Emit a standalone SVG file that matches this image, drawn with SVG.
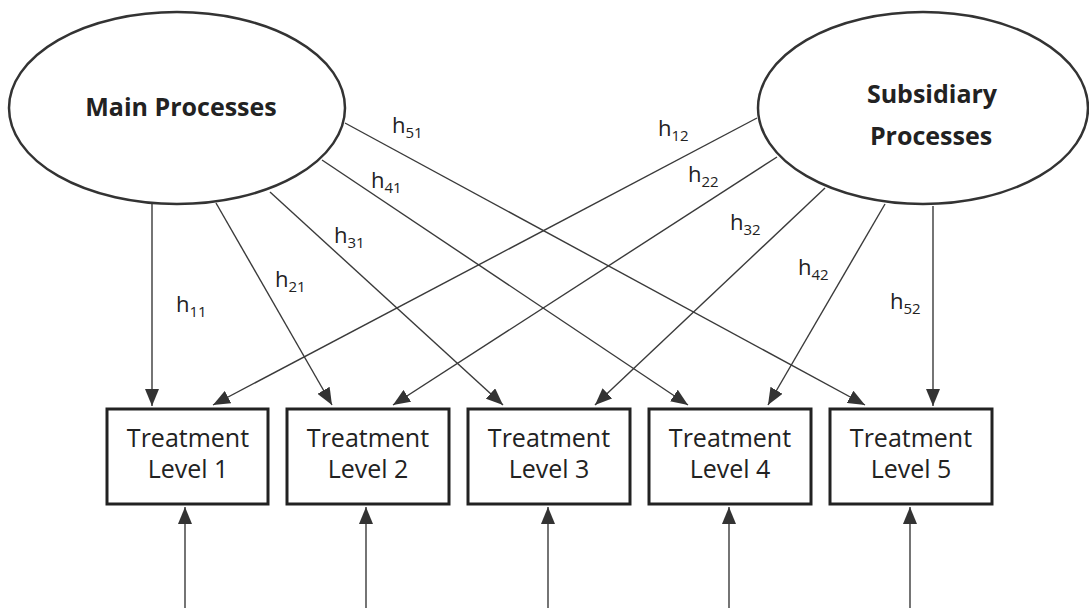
<svg xmlns="http://www.w3.org/2000/svg" width="1089" height="608" viewBox="0 0 1089 608">
<style>
.ell{fill:#fff;stroke:#333;stroke-width:2.5}
.box{fill:#fff;stroke:#222;stroke-width:3}
.con{stroke:#3a3a3a;stroke-width:1.4;fill:none;marker-end:url(#ah)}
.title{font-family:"Open Sans","Liberation Sans",sans-serif;font-weight:bold;font-size:25px;fill:#222;text-anchor:middle}
.lbl{font-family:"Open Sans","Liberation Sans",sans-serif;font-size:25px;fill:#222;text-anchor:middle}
.h{font-family:"Open Sans","Liberation Sans",sans-serif;font-size:22px;fill:#222}
.sub{font-size:15px}
</style>
<defs>
<marker id="ah" markerUnits="userSpaceOnUse" markerWidth="18" markerHeight="14" refX="17" refY="7" orient="auto">
<path d="M0,0 L17,7 L0,14 Z" fill="#333"/>
</marker>
</defs>
<rect width="1089" height="608" fill="#fff"/>
<g id="connectors">
<line class="con" x1="152" y1="204" x2="152" y2="406"/>
<line class="con" x1="216" y1="203" x2="332" y2="405"/>
<line class="con" x1="270" y1="192" x2="503" y2="405"/>
<line class="con" x1="322" y1="160" x2="688" y2="405"/>
<line class="con" x1="345" y1="123" x2="865" y2="405"/>
<line class="con" x1="757" y1="118" x2="213" y2="405"/>
<line class="con" x1="777" y1="157" x2="393" y2="405"/>
<line class="con" x1="825" y1="188" x2="595" y2="405"/>
<line class="con" x1="885" y1="204" x2="768" y2="405"/>
<line class="con" x1="933" y1="206" x2="933" y2="406"/>
<line class="con" x1="185" y1="608" x2="185" y2="507"/>
<line class="con" x1="366" y1="608" x2="366" y2="507"/>
<line class="con" x1="548" y1="608" x2="548" y2="507"/>
<line class="con" x1="729" y1="608" x2="729" y2="507"/>
<line class="con" x1="910" y1="608" x2="910" y2="507"/>
</g>
<g id="labels">
<text class="h" x="176" y="312">h<tspan class="sub" dy="5">11</tspan></text>
<text class="h" x="275" y="287">h<tspan class="sub" dy="5">21</tspan></text>
<text class="h" x="334" y="243">h<tspan class="sub" dy="5">31</tspan></text>
<text class="h" x="371" y="188">h<tspan class="sub" dy="5">41</tspan></text>
<text class="h" x="392" y="133">h<tspan class="sub" dy="5">51</tspan></text>
<text class="h" x="658" y="136">h<tspan class="sub" dy="5">12</tspan></text>
<text class="h" x="688" y="182">h<tspan class="sub" dy="5">22</tspan></text>
<text class="h" x="730" y="230">h<tspan class="sub" dy="5">32</tspan></text>
<text class="h" x="798" y="275">h<tspan class="sub" dy="5">42</tspan></text>
<text class="h" x="890" y="309">h<tspan class="sub" dy="5">52</tspan></text>
</g>
<g id="main-processes">
<ellipse class="ell" cx="177" cy="108" rx="168" ry="96"/>
<text class="title" x="181" y="116">Main Processes</text>
</g>
<g id="subsidiary-processes">
<ellipse class="ell" cx="923" cy="108" rx="165" ry="96"/>
<text class="title" x="932" y="103">Subsidiary</text>
<text class="title" x="931" y="145">Processes</text>
</g>
<g id="level1">
<rect class="box" x="107" y="409" width="161" height="95"/>
<text class="lbl" x="188" y="447">Treatment</text>
<text class="lbl" x="188" y="478">Level 1</text>
</g>
<g id="level2">
<rect class="box" x="287" y="409" width="162" height="95"/>
<text class="lbl" x="368" y="447">Treatment</text>
<text class="lbl" x="368" y="478">Level 2</text>
</g>
<g id="level3">
<rect class="box" x="468" y="409" width="162" height="95"/>
<text class="lbl" x="549" y="447">Treatment</text>
<text class="lbl" x="549" y="478">Level 3</text>
</g>
<g id="level4">
<rect class="box" x="649" y="409" width="162" height="95"/>
<text class="lbl" x="730" y="447">Treatment</text>
<text class="lbl" x="730" y="478">Level 4</text>
</g>
<g id="level5">
<rect class="box" x="830" y="409" width="162" height="95"/>
<text class="lbl" x="911" y="447">Treatment</text>
<text class="lbl" x="911" y="478">Level 5</text>
</g>
</svg>
